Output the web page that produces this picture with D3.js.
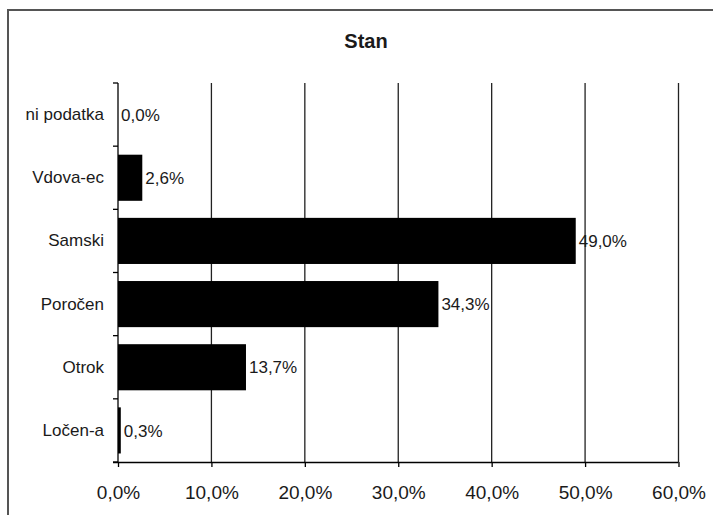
<!DOCTYPE html>
<html>
<head>
<meta charset="utf-8">
<script src="https://cdn.jsdelivr.net/npm/d3@7"></script>
<style>
  html, body { margin: 0; padding: 0; background: #fff; }
  svg { display: block; }
  text { font-family: "Liberation Sans", Arial, sans-serif; fill: #1a1a1a; }
</style>
</head>
<body>
<svg id="chart" width="713" height="515"></svg>
<script>
const title = "Stan";
const categories = ["ni podatka", "Vdova-ec", "Samski", "Poročen", "Otrok", "Ločen-a"];
const values = [0.0, 2.6, 49.0, 34.3, 13.7, 0.3];
const xTicks = [0, 10, 20, 30, 40, 50, 60];

const svg = d3.select("#chart");
const fmt = v => v.toFixed(1).replace(".", ",") + "%";

// outer frame (extends past right/bottom edges)
svg.append("rect")
  .attr("x", 8).attr("y", 10)
  .attr("width", 720).attr("height", 520)
  .attr("fill", "#fff")
  .attr("stroke", "#555").attr("stroke-width", 2);

const plotLeft = 118, plotRight = 678.5, plotTop = 83, plotBottom = 462;

const x = d3.scaleLinear().domain([0, 60]).range([plotLeft, plotRight]);
const y = d3.scaleBand().domain(categories).range([plotTop, plotBottom])
  .paddingInner(0.27).paddingOuter(0.135);

// title
svg.append("text")
  .attr("x", 366).attr("y", 48)
  .attr("text-anchor", "middle")
  .attr("font-size", 20).attr("font-weight", "bold")
  .text(title);

// vertical gridlines
svg.append("g").selectAll("line")
  .data(xTicks.filter(d => d > 0))
  .join("line")
  .attr("x1", d => x(d)).attr("x2", d => x(d))
  .attr("y1", plotTop).attr("y2", plotBottom)
  .attr("stroke", "#222").attr("stroke-width", 1.3);

// bars
svg.append("g").selectAll("rect")
  .data(values)
  .join("rect")
  .attr("x", x(0))
  .attr("y", (d, i) => y(categories[i]))
  .attr("width", d => x(d) - x(0))
  .attr("height", y.bandwidth())
  .attr("fill", "#000");

// value labels
svg.append("g").selectAll("text")
  .data(values)
  .join("text")
  .attr("x", d => x(d) + 3)
  .attr("y", (d, i) => y(categories[i]) + y.bandwidth() / 2)
  .attr("dy", "0.36em")
  .attr("font-size", 17)
  .text(d => fmt(d));

// bottom axis
const xAxis = d3.axisBottom(x).tickValues(xTicks).tickFormat(fmt).tickSize(5).tickPadding(19);
const gx = svg.append("g").attr("transform", `translate(0,${plotBottom})`).call(xAxis);
gx.select(".domain").attr("stroke", "#000").attr("stroke-width", 1.3)
  .attr("d", `M${plotLeft - 5},0.5H${plotRight}`);
gx.selectAll(".tick line").attr("stroke", "#000").attr("stroke-width", 1.3);
gx.selectAll(".tick text").attr("font-size", 19).attr("fill", "#1a1a1a")
  .attr("font-family", "Liberation Sans, Arial, sans-serif");

// left axis: labels at band centers, ticks at band boundaries
const yAxis = d3.axisLeft(y).tickSize(0).tickPadding(14);
const gy = svg.append("g").attr("transform", `translate(${plotLeft},0)`).call(yAxis);
gy.select(".domain").attr("stroke", "#000").attr("stroke-width", 1.3)
  .attr("d", `M0,${plotTop}V${plotBottom}`);
gy.selectAll(".tick text").attr("font-size", 17).attr("fill", "#1a1a1a")
  .attr("font-family", "Liberation Sans, Arial, sans-serif");

const step = y.step();
const boundaries = d3.range(categories.length + 1).map(i => y.range()[0] + i * step);
svg.append("g").selectAll("line")
  .data(boundaries)
  .join("line")
  .attr("x1", plotLeft - 5).attr("x2", plotLeft)
  .attr("y1", d => d).attr("y2", d => d)
  .attr("stroke", "#000").attr("stroke-width", 1.3);
</script>
</body>
</html>
